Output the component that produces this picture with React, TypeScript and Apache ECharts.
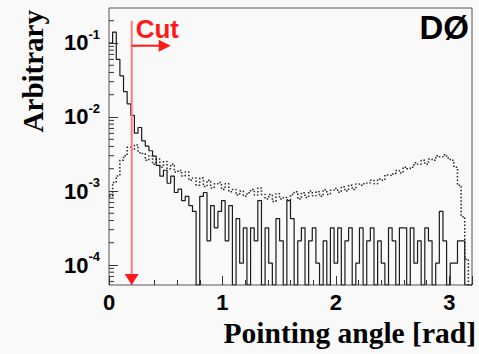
import React, { useEffect, useRef } from "react";
import * as echarts from "echarts";

// ---- data ----
const BIN_WIDTH = 0.032; // rad
const X_MIN = 0;
const X_MAX = 3.2;
const Y_MIN = 5.37e-5;
const Y_MAX = 0.297;
const X_TICK_LABELS = [0, 1, 2, 3];
const Y_TICK_EXPONENTS = [-4, -3, -2, -1];
const MINOR_Y_TICKS = [
  6e-5, 7e-5, 8e-5, 9e-5,
  2e-4, 3e-4, 4e-4, 5e-4, 6e-4, 7e-4, 8e-4, 9e-4,
  2e-3, 3e-3, 4e-3, 5e-3, 6e-3, 7e-3, 8e-3, 9e-3,
  2e-2, 3e-2, 4e-2, 5e-2, 6e-2, 7e-2, 8e-2, 9e-2,
  2e-1,
];

// solid histogram, in units of one entry (normalised by SOLID_NORM)
const SOLID_NORM = 1.06e-4;
const SOLID_COUNTS = [
  943, 1320, 566, 340, 208, 142, 99, 57, 68, 45, 38, 33, 28, 21, 15, 18, 12, 15, 9, 10, 7, 8, 6,
  5, 0, 8, 9, 2, 6, 3, 5, 7, 2,
  6, 0, 4, 1, 3, 0, 3, 2, 7, 0,
  3, 1, 0, 4, 2, 0, 7, 4, 0, 2,
  3, 0, 2, 3, 1, 0, 2, 0, 3, 1,
  3, 0, 2, 3, 0, 1, 3, 0, 2, 3,
  0, 2, 1, 0, 3, 2, 0, 3, 3, 0,
  3, 1, 2, 0, 3, 2, 0, 1, 5, 2,
  0, 1, 1, 2, 2, 0, 0,
];

// dotted histogram (arbitrary units)
const DOTTED_VALUES = [
  0.00085, 0.0013, 0.0016, 0.0026, 0.003, 0.0039, 0.0036, 0.0042, 0.0033, 0.0032,
  0.0026, 0.003, 0.0023, 0.0027, 0.0021, 0.0025, 0.002, 0.0023, 0.0018, 0.0019,
  0.0016, 0.0018, 0.0014, 0.0015, 0.0012, 0.0015, 0.00115, 0.0014, 0.0011, 0.00125,
  0.0013, 0.00105, 0.00125, 0.00098, 0.00105, 0.00088, 0.001, 0.00085, 0.00095, 0.00105,
  0.00088, 0.0011, 0.0009, 0.00078, 0.0009, 0.00072, 0.00092, 0.00078, 0.00082, 0.00076,
  0.0009, 0.00098, 0.00078, 0.00095, 0.00082, 0.001, 0.00086, 0.00098, 0.00085, 0.00104,
  0.0009, 0.00102, 0.00108, 0.00096, 0.00114, 0.001, 0.0012, 0.00105, 0.00124, 0.0012,
  0.00125, 0.00128, 0.0014, 0.00125, 0.00145, 0.0014, 0.00165, 0.00162, 0.0017, 0.0019,
  0.00175, 0.0021, 0.002, 0.0021, 0.0024, 0.0023, 0.0026, 0.0023, 0.0027, 0.0026,
  0.003, 0.0029, 0.0031, 0.0028, 0.0026, 0.0021, 0.0012, 0.00045, 0.00012, 0,
];

const CUT_X = 0.2;
const CUT_TOP_VALUE = 0.2;

const SANS = "'Liberation Sans', Arial, Helvetica, sans-serif";
const SERIF = "'Liberation Serif', 'Times New Roman', serif";

function histSteps(values: number[]): number[][] {
  const pts: number[][] = values.map((v, k) => [k * BIN_WIDTH, v > 0 ? v : Y_MIN]);
  const last = values[values.length - 1];
  pts.push([values.length * BIN_WIDTH, last > 0 ? last : Y_MIN]);
  return pts;
}

export default function App() {
  const ref = useRef<HTMLDivElement>(null);

  useEffect(() => {
    if (!ref.current) return;
    const chart = echarts.init(ref.current, null, { renderer: "svg" });

    const solid = histSteps(SOLID_COUNTS.map((c) => c * SOLID_NORM));
    const dotted = histSteps(DOTTED_VALUES);

    chart.setOption({
      animation: false,
      backgroundColor: "#f9f9f9",
      grid: {
        left: 109,
        right: 7,
        top: 8,
        bottom: 69,
        show: true,
        borderColor: "#555",
        borderWidth: 1,
        backgroundColor: "transparent",
        outerBoundsMode: "none",
      },
      xAxis: {
        type: "value",
        min: X_MIN,
        max: X_MAX,
        interval: 1,
        axisLine: { show: false },
        splitLine: { show: false },
        axisTick: { show: true, inside: true, length: 9, lineStyle: { color: "#333" } },
        minorTick: { show: true, splitNumber: 5, length: 5, lineStyle: { color: "#333" } },
        axisLabel: {
          margin: 6,
          fontSize: 22,
          fontWeight: "bold",
          fontFamily: SANS,
          color: "#000",
          showMaxLabel: false,
          formatter: (v: number) => (X_TICK_LABELS.includes(v) ? String(v) : ""),
        },
      },
      yAxis: {
        type: "log",
        logBase: 10,
        min: Y_MIN,
        max: Y_MAX,
        axisLine: { show: false },
        splitLine: { show: false },
        minorTick: { show: false },
        axisTick: { show: true, inside: true, length: 9, lineStyle: { color: "#333" } },
        axisLabel: {
          margin: 9,
          showMinLabel: false,
          showMaxLabel: false,
          formatter: (v: number) => {
            const e = Math.log10(v);
            const r = Math.round(e);
            if (Math.abs(e - r) > 1e-6 || !Y_TICK_EXPONENTS.includes(r)) return "";
            return `{a|10}{b|${r}}`;
          },
          rich: {
            a: { fontSize: 22, fontWeight: "bold", fontFamily: SANS, color: "#000" },
            b: { fontSize: 13, fontWeight: "bold", fontFamily: SANS, color: "#000", padding: [0, 0, 17, 0] },
          },
        },
      },
      series: [
        {
          type: "line",
          data: dotted,
          step: "end",
          showSymbol: false,
          symbol: "none",
          clip: true,
          lineStyle: { color: "#222", width: 1.5, type: [1.5, 2] },
          z: 2,
        },
        {
          type: "line",
          data: solid,
          step: "end",
          showSymbol: false,
          symbol: "none",
          clip: true,
          lineStyle: { color: "#1a1a1a", width: 1.2 },
          z: 3,
        },
        {
          type: "custom",
          data: MINOR_Y_TICKS.map((v) => [X_MIN, v]),
          clip: false,
          silent: true,
          z: 4,
          renderItem: (_params: any, api: any) => {
            const p = api.coord([X_MIN, api.value(1)]);
            return {
              type: "line",
              shape: { x1: p[0], y1: p[1], x2: p[0] + 5, y2: p[1] },
              style: { stroke: "#333", lineWidth: 1 },
            };
          },
        },
      ],
    });

    const top = chart.convertToPixel({ gridIndex: 0 }, [CUT_X, CUT_TOP_VALUE]) as number[];
    const bot = chart.convertToPixel({ gridIndex: 0 }, [CUT_X, Y_MIN]) as number[];
    const cx = top[0];
    const arrowY = top[1] + 25;

    chart.setOption({
      graphic: [
        {
          type: "line",
          shape: { x1: cx, y1: top[1], x2: cx, y2: bot[1] - 8 },
          style: { stroke: "#ff7b7b", lineWidth: 2 },
          z: 10,
        },
        {
          type: "polygon",
          shape: { points: [[cx - 7, bot[1] - 11], [cx + 7, bot[1] - 11], [cx, bot[1]]] },
          style: { fill: "#ff1a1a" },
          z: 10,
        },
        {
          type: "line",
          shape: { x1: cx, y1: arrowY, x2: cx + 30, y2: arrowY },
          style: { stroke: "#ff1a1a", lineWidth: 2 },
          z: 10,
        },
        {
          type: "polygon",
          shape: { points: [[cx + 27, arrowY - 6], [cx + 27, arrowY + 6], [cx + 39, arrowY]] },
          style: { fill: "#ff1a1a" },
          z: 10,
        },
        {
          type: "text",
          x: cx + 4,
          y: 28.5,
          style: {
            text: "Cut",
            fill: "#ff1a1a",
            font: `bold 26px ${SANS}`,
            align: "left",
            verticalAlign: "middle",
          },
          z: 10,
        },
        {
          type: "text",
          x: 469,
          y: 27.5,
          style: {
            text: "DØ",
            fill: "#000",
            font: `bold 33px ${SANS}`,
            align: "right",
            verticalAlign: "middle",
          },
          z: 10,
        },
        {
          type: "text",
          x: 476,
          y: 333,
          style: {
            text: "Pointing angle [rad]",
            fill: "#000",
            font: `bold 29.5px ${SERIF}`,
            align: "right",
            verticalAlign: "middle",
          },
          z: 10,
        },
        {
          type: "text",
          x: 33,
          y: 10,
          rotation: Math.PI / 2,
          style: {
            text: "Arbitrary",
            fill: "#000",
            font: `bold 29px ${SERIF}`,
            align: "right",
            verticalAlign: "middle",
          },
          z: 10,
        },
      ],
    });

    return () => chart.dispose();
  }, []);

  return (
    <div
      ref={ref}
      style={{ position: "fixed", left: 0, top: 0, width: 479, height: 354 }}
    />
  );
}
